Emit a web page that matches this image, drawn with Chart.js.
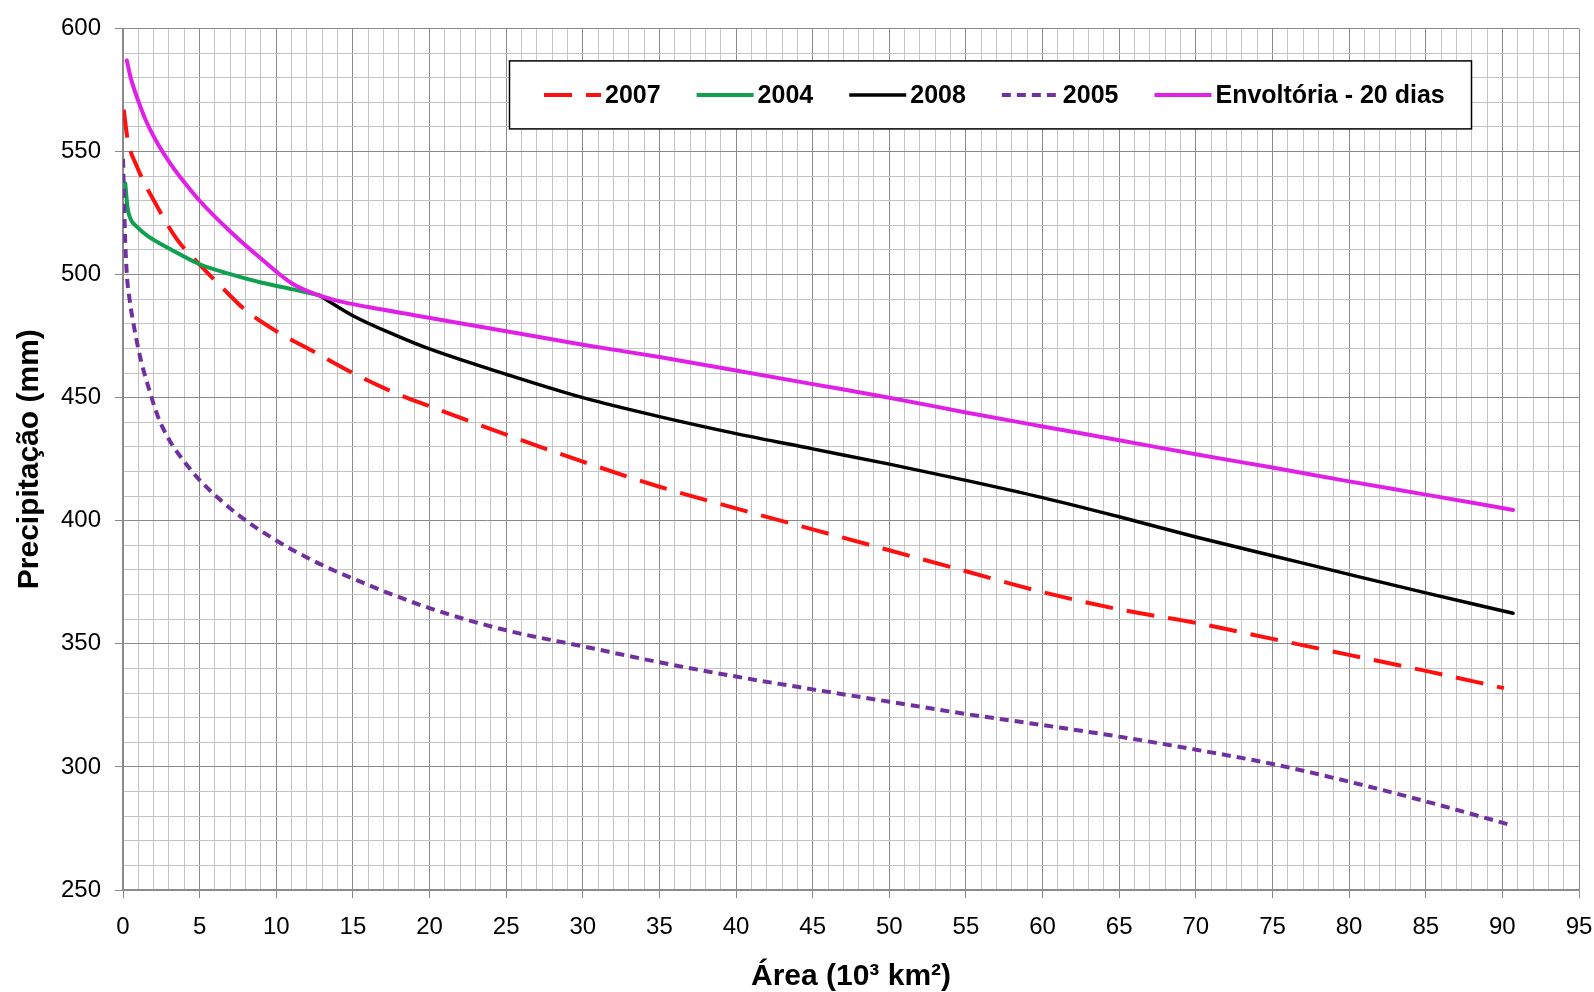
<!DOCTYPE html>
<html lang="pt">
<head>
<meta charset="utf-8">
<title>Precipitação x Área</title>
<script src="https://cdn.jsdelivr.net/npm/chart.js@4/dist/chart.umd.min.js"></script>
<style>
  html, body { margin: 0; padding: 0; background: #fff; }
  #wrap { width: 1594px; height: 992px; }
</style>
</head>
<body>
<div id="wrap"><canvas id="chartPrec" width="1594" height="992"></canvas></div>
<script>
// --- Dados (área em 10^3 km², precipitação em mm) ---
const area2007 = [0.05, 0.3, 0.9, 2.2, 3.5, 5, 6.5, 8, 10, 12.5, 15, 17.6, 20, 25, 30, 35, 40, 45, 50, 55, 60, 65, 70, 75, 80, 85, 90.1];
const prec2007 = [567, 555, 544, 528, 514.5, 504, 494.5, 485.5, 477, 468.5, 460, 452.3, 446.5, 435, 424, 413.8, 405, 396.5, 388, 379.5, 371, 364, 358.5, 352, 345.5, 339, 332];

const area2004 = [0.15, 0.3, 0.5, 0.9, 1.6, 3.1, 5, 7, 9, 11.1, 12.8];
const prec2004 = [537, 527, 522.5, 519.5, 515.7, 510.3, 504.2, 500.2, 496.8, 494, 491.6];

const area2008 = [12.8, 15, 18, 20, 25, 30, 35, 40, 45, 50, 55, 60, 65, 70, 75, 80, 85, 90.7];
const prec2008 = [491.6, 483.3, 474.8, 469.8, 459.5, 450, 442.3, 435.4, 429.2, 423, 416.4, 409.4, 401.6, 393.4, 385.8, 378.2, 370.7, 362.4];

const area2005 = [0, 0.05, 0.12, 0.24, 0.45, 0.67, 1.1, 1.6, 2.3, 3, 4, 5, 7.5, 10, 12.5, 15, 20, 25, 30, 35, 40, 45, 50, 55, 60, 65, 70, 75, 80, 85, 90.6];
const prec2005 = [547, 535, 518, 501, 489, 480.5, 467, 455.5, 442, 433, 424, 416.5, 402.5, 392, 383.5, 376.5, 364.5, 355.5, 349, 342.5, 336.7, 331.5, 326.5, 321.5, 317, 312.3, 307, 301.2, 294, 286, 276.3];

const areaEnv = [0.25, 0.5, 1, 1.5, 2.1, 3.1, 4, 5, 7, 9, 11, 12.8, 14, 16, 19.2, 25, 30, 35, 40, 45, 50, 55, 60, 65, 70, 75, 80, 85, 90.7];
const precEnv = [587, 580, 570.5, 562.5, 555, 545, 537.5, 530, 517.5, 506.5, 496.5, 491.5, 489.3, 486.8, 483.3, 477, 471.5, 466.5, 461, 455.5, 450, 444, 438.3, 432.7, 427, 421.6, 416, 410.6, 404.4];

const seriesLabels = ['2007', '2004', '2008', '2005', 'Envoltória - 20 dias'];

// eixos
const xMin = 0, xMax = 95, xStep = 1, xLabelEvery = 5;
const yMin = 250, yMax = 600, yStep = 10, yLabelEvery = 50;
const xTitle = 'Área (10³ km²)';
const yTitle = 'Precipitação (mm)';

document.addEventListener('DOMContentLoaded', () => {
  const FONT = "'Liberation Sans', Arial, sans-serif";
  Chart.defaults.font.family = FONT;
  Chart.defaults.color = '#000';

  const pts = (xs, ys) => xs.map((x, i) => ({ x, y: ys[i] }));

  const MAJOR = '#8a8a8a';
  const MINOR = '#c4c4c4';

  // --- Legenda com moldura (estilo Excel) ---
  const legendBox = {
    id: 'legendBox',
    afterDraw(chart) {
      const { ctx, chartArea } = chart;
      const bx = chartArea.left + 386, by = chartArea.top + 32, bw = 963, bh = 69;
      ctx.save();
      ctx.fillStyle = '#fff';
      ctx.fillRect(bx, by, bw, bh);
      ctx.strokeStyle = '#000';
      ctx.lineWidth = 1.5;
      ctx.strokeRect(bx + 0.5, by + 0.5, bw - 1, bh - 1);

      ctx.font = 'bold 25px ' + FONT;
      ctx.textBaseline = 'middle';
      ctx.textAlign = 'left';
      const cy = by + bh / 2;
      let x = bx + 35;
      chart.data.datasets.forEach(ds => {
        ctx.beginPath();
        ctx.setLineDash(ds.borderDash || []);
        ctx.lineWidth = ds.borderWidth;
        ctx.strokeStyle = ds.borderColor;
        ctx.lineCap = 'butt';
        ctx.moveTo(x, cy);
        ctx.lineTo(x + 57, cy);
        ctx.stroke();
        ctx.setLineDash([]);
        ctx.fillStyle = '#000';
        ctx.fillText(ds.label, x + 61, cy + 1);
        x += 61 + ctx.measureText(ds.label).width + 36;
      });
      ctx.restore();
    }
  };

  const mk = (label, xs, ys, color, width, dash, order) => ({
    label,
    data: pts(xs, ys),
    borderColor: color,
    backgroundColor: color,
    borderWidth: width,
    borderDash: dash,
    borderCapStyle: dash.length ? 'butt' : 'round',
    pointRadius: 0,
    fill: false,
    cubicInterpolationMode: 'monotone',
    order
  });

  const ctx = document.getElementById('chartPrec').getContext('2d');
  new Chart(ctx, {
    type: 'line',
    data: {
      datasets: [
        mk(seriesLabels[0], area2007, prec2007, '#ff1010', 4, [28, 14], 5),
        mk(seriesLabels[1], area2004, prec2004, '#10a050', 4, [], 4),
        mk(seriesLabels[2], area2008, prec2008, '#000000', 3.5, [], 3),
        mk(seriesLabels[3], area2005, prec2005, '#7030a0', 4, [9, 6], 2),
        mk(seriesLabels[4], areaEnv, precEnv, '#e020e6', 4, [], 1)
      ]
    },
    options: {
      responsive: false,
      animation: false,
      layout: { padding: { top: 25, right: 0, left: 0, bottom: 0 } },
      plugins: {
        legend: { display: false },
        tooltip: { enabled: false }
      },
      scales: {
        x: {
          type: 'linear',
          min: xMin, max: xMax,
          afterFit: s => { s.height = 102; s.paddingRight = 15; s.paddingLeft = 0; },
          ticks: {
            stepSize: xStep,
            maxTicksLimit: 1000,
            autoSkip: false,
            maxRotation: 0,
            padding: 15,
            font: { size: 24 },
            color: '#000',
            callback: v => (v % xLabelEvery === 0 ? v : '')
          },
          grid: {
            color: c => (c.tick && c.tick.value % xLabelEvery === 0 ? MAJOR : MINOR),
            tickColor: c => (c.tick && c.tick.value % xLabelEvery === 0 ? MAJOR : 'rgba(0,0,0,0)'),
            lineWidth: 1,
            tickLength: 8
          },
          border: { color: MAJOR, width: 1.5 },
          title: {
            display: true,
            text: xTitle,
            font: { size: 30, weight: 'bold', lineHeight: 1 },
            padding: { top: 0, bottom: 0 },
            color: '#000'
          }
        },
        y: {
          min: yMin, max: yMax,
          afterFit: s => { s.width = 123; },
          ticks: {
            stepSize: yStep,
            maxTicksLimit: 1000,
            autoSkip: false,
            padding: 14,
            font: { size: 24 },
            color: '#000',
            callback: v => (v % yLabelEvery === 0 ? v : '')
          },
          grid: {
            color: c => (c.tick && c.tick.value % yLabelEvery === 0 ? MAJOR : MINOR),
            tickColor: c => (c.tick && c.tick.value % yLabelEvery === 0 ? MAJOR : 'rgba(0,0,0,0)'),
            lineWidth: 1,
            tickLength: 8
          },
          border: { color: MAJOR, width: 1.5 },
          title: {
            display: true,
            text: yTitle,
            font: { size: 30, weight: 'bold', lineHeight: 1 },
            padding: { top: 15, bottom: 0 },
            color: '#000'
          }
        }
      }
    },
    plugins: [legendBox]
  });
});
</script>
</body>
</html>
